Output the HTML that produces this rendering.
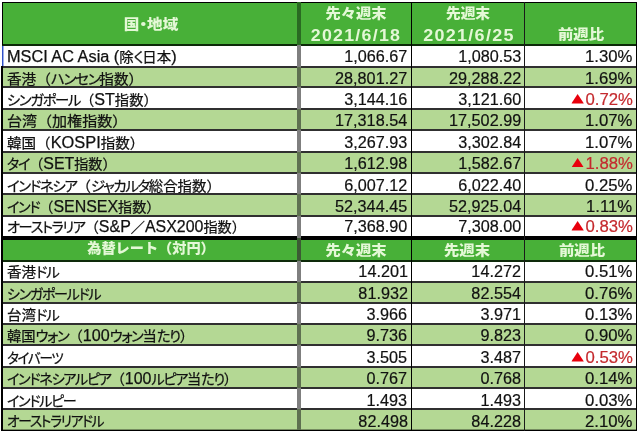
<!DOCTYPE html>
<html><head><meta charset="utf-8"><style>
*{margin:0;padding:0;box-sizing:border-box}
html,body{width:640px;height:434px;overflow:hidden;background:#fff}
body{position:relative;font-family:"Liberation Sans","Noto Sans CJK JP",sans-serif}
.bg,.ln,.t,.h{position:absolute}
#w{position:absolute;left:0;top:0;width:640px;height:434px}
.t{font-size:16px;line-height:20px;color:#111;white-space:nowrap;-webkit-text-stroke:0.25px #111}
.l{transform-origin:0 50%}
.j{font-size:14.2px}
.k{font-feature-settings:"palt" 1;letter-spacing:-1.3px}
.r{text-align:right;transform-origin:100% 50%;transform:scaleX(1.013);-webkit-text-stroke-width:0.2px}
.p{transform:scaleX(1.045)}
.neg{color:#c42a2e;-webkit-text-stroke-color:#c42a2e}
.tri{display:inline-block;vertical-align:1.5px;margin-right:1.5px}
.h{font-weight:900;color:#e4f8d6;font-size:14px;line-height:18px;text-align:center;white-space:nowrap}
.h.n{font-size:17px;letter-spacing:1.2px}
</style></head>
<body><div id="w">
<div class="bg" style="left:2px;top:2px;width:635px;height:43px;background:#48b038"></div>
<div class="bg" style="left:2px;top:45.00px;width:635px;height:21.50px;background:#ffffff"></div>
<div class="bg" style="left:2px;top:66.50px;width:635px;height:20.70px;background:#b4d894"></div>
<div class="bg" style="left:2px;top:87.20px;width:635px;height:21.50px;background:#ffffff"></div>
<div class="bg" style="left:2px;top:108.70px;width:635px;height:21.50px;background:#b4d894"></div>
<div class="bg" style="left:2px;top:130.20px;width:635px;height:21.60px;background:#ffffff"></div>
<div class="bg" style="left:2px;top:151.80px;width:635px;height:21.10px;background:#b4d894"></div>
<div class="bg" style="left:2px;top:172.90px;width:635px;height:21.10px;background:#ffffff"></div>
<div class="bg" style="left:2px;top:194.00px;width:635px;height:21.80px;background:#b4d894"></div>
<div class="bg" style="left:2px;top:215.80px;width:635px;height:21.90px;background:#ffffff"></div>
<div class="bg" style="left:2px;top:237.70px;width:635px;height:22.90px;background:#48b038"></div>
<div class="bg" style="left:2px;top:260.60px;width:635px;height:21.10px;background:#ffffff"></div>
<div class="bg" style="left:2px;top:281.70px;width:635px;height:20.80px;background:#b4d894"></div>
<div class="bg" style="left:2px;top:302.50px;width:635px;height:21.90px;background:#ffffff"></div>
<div class="bg" style="left:2px;top:324.40px;width:635px;height:20.80px;background:#b4d894"></div>
<div class="bg" style="left:2px;top:345.20px;width:635px;height:21.90px;background:#ffffff"></div>
<div class="bg" style="left:2px;top:367.10px;width:635px;height:20.80px;background:#b4d894"></div>
<div class="bg" style="left:2px;top:387.90px;width:635px;height:20.90px;background:#ffffff"></div>
<div class="bg" style="left:2px;top:408.80px;width:635px;height:21.50px;background:#b4d894"></div>
<div class="h" style="left:51.00px;width:200px;top:14.80px;transform:scaleX(1.1150)">国<span class="k" style="letter-spacing:0">・</span>地域</div>
<div class="h" style="left:256.00px;width:200px;top:4.40px;transform:scaleX(1.0900)">先々週末</div>
<div class="h n" style="left:255.80px;width:200px;top:27.00px;transform:scaleX(1.0458)">2021/6/18</div>
<div class="h" style="left:368.10px;width:200px;top:4.40px;transform:scaleX(1.0530)">先週末</div>
<div class="h n" style="left:368.80px;width:200px;top:27.00px;transform:scaleX(1.0565)">2021/6/25</div>
<div class="h" style="left:481.10px;width:200px;top:25.40px;transform:scaleX(1.0996)">前週比</div>
<div class="t l" style="left:7px;top:47.19px;transform:scaleX(1.0183)">MSCI AC Asia (<span class="j">除</span><span class="j k">く</span><span class="j">日本</span>)</div>
<div class="t r" style="right:232.5px;top:47.29px">1,066.67</div>
<div class="t r" style="right:119px;top:47.29px">1,080.53</div>
<div class="t r p" style="right:7.600000000000023px;top:47.29px">1.30%</div>
<div class="t l" style="left:7px;top:68.69px;transform:scaleX(1.0293)"><span class="j">香港（</span><span class="j k">ハンセン</span><span class="j">指数）</span></div>
<div class="t r" style="right:232.5px;top:68.79px">28,801.27</div>
<div class="t r" style="right:119px;top:68.79px">29,288.22</div>
<div class="t r p" style="right:7.600000000000023px;top:68.79px">1.69%</div>
<div class="t l" style="left:7px;top:90.19px;transform:scaleX(1.0074)"><span class="j k">シンガポール</span><span class="j">（</span>ST<span class="j">指数）</span></div>
<div class="t r" style="right:232.5px;top:90.29px">3,144.16</div>
<div class="t r" style="right:119px;top:90.29px">3,121.60</div>
<div class="t r p neg" style="right:7.600000000000023px;top:90.29px"><svg class="tri" width="12" height="9.6" viewBox="0 0 12 9.6"><path d="M6 0L12 9.6H0Z" fill="#e8000c"/></svg>0.72%</div>
<div class="t l" style="left:7px;top:110.99px;transform:scaleX(1.0592)"><span class="j">台湾（加権指数）</span></div>
<div class="t r" style="right:232.5px;top:111.09px">17,318.54</div>
<div class="t r" style="right:119px;top:111.09px">17,502.99</div>
<div class="t r p" style="right:7.600000000000023px;top:111.09px">1.07%</div>
<div class="t l" style="left:7px;top:132.99px;transform:scaleX(1.0248)"><span class="j">韓国（</span>KOSPI<span class="j">指数）</span></div>
<div class="t r" style="right:232.5px;top:133.09px">3,267.93</div>
<div class="t r" style="right:119px;top:133.09px">3,302.84</div>
<div class="t r p" style="right:7.600000000000023px;top:133.09px">1.07%</div>
<div class="t l" style="left:7px;top:153.84px;transform:scaleX(0.9940)"><span class="j k">タイ</span><span class="j">（</span>SET<span class="j">指数）</span></div>
<div class="t r" style="right:232.5px;top:153.94px">1,612.98</div>
<div class="t r" style="right:119px;top:153.94px">1,582.67</div>
<div class="t r p neg" style="right:7.600000000000023px;top:153.94px"><svg class="tri" width="12" height="9.6" viewBox="0 0 12 9.6"><path d="M6 0L12 9.6H0Z" fill="#e8000c"/></svg>1.88%</div>
<div class="t l" style="left:7px;top:175.79px;transform:scaleX(1.0146)"><span class="j k">インドネシア</span><span class="j">（</span><span class="j k">ジャカルタ</span><span class="j">総合指数）</span></div>
<div class="t r" style="right:232.5px;top:175.89px">6,007.12</div>
<div class="t r" style="right:119px;top:175.89px">6,022.40</div>
<div class="t r p" style="right:7.600000000000023px;top:175.89px">0.25%</div>
<div class="t l" style="left:7px;top:196.79px;transform:scaleX(0.9957)"><span class="j k">インド</span><span class="j">（</span>SENSEX<span class="j">指数）</span></div>
<div class="t r" style="right:232.5px;top:196.89px">52,344.45</div>
<div class="t r" style="right:119px;top:196.89px">52,925.04</div>
<div class="t r p" style="right:7.600000000000023px;top:196.89px">1.11%</div>
<div class="t l" style="left:7px;top:217.34px;transform:scaleX(0.9962)"><span class="j k">オーストラリア</span><span class="j">（</span>S&amp;P<span class="j">／</span>ASX200<span class="j">指数）</span></div>
<div class="t r" style="right:232.5px;top:217.44px">7,368.90</div>
<div class="t r" style="right:119px;top:217.44px">7,308.00</div>
<div class="t r p neg" style="right:7.600000000000023px;top:217.44px"><svg class="tri" width="12" height="9.6" viewBox="0 0 12 9.6"><path d="M6 0L12 9.6H0Z" fill="#e8000c"/></svg>0.83%</div>
<div class="h" style="left:50.50px;width:200px;top:239.35px;transform:scaleX(1.0125)">為替レート（対円）</div>
<div class="h" style="left:256.30px;width:200px;top:240.55px;transform:scaleX(1.0924)">先々週末</div>
<div class="h" style="left:367.10px;width:200px;top:240.55px;transform:scaleX(1.0982)">先週末</div>
<div class="h" style="left:481.50px;width:200px;top:240.55px;transform:scaleX(1.0987)">前週比</div>
<div class="t l" style="left:7px;top:262.19px;transform:scaleX(1.0230)"><span class="j">香港</span><span class="j k">ドル</span></div>
<div class="t r" style="right:232.5px;top:262.29px">14.201</div>
<div class="t r" style="right:119px;top:262.29px">14.272</div>
<div class="t r p" style="right:7.600000000000023px;top:262.29px">0.51%</div>
<div class="t l" style="left:7px;top:283.89px;transform:scaleX(0.9881)"><span class="j k">シンガポールドル</span></div>
<div class="t r" style="right:232.5px;top:283.99px">81.932</div>
<div class="t r" style="right:119px;top:283.99px">82.554</div>
<div class="t r p" style="right:7.600000000000023px;top:283.99px">0.76%</div>
<div class="t l" style="left:7px;top:305.19px;transform:scaleX(1.0230)"><span class="j">台湾</span><span class="j k">ドル</span></div>
<div class="t r" style="right:232.5px;top:305.29px">3.966</div>
<div class="t r" style="right:119px;top:305.29px">3.971</div>
<div class="t r p" style="right:7.600000000000023px;top:305.29px">0.13%</div>
<div class="t l" style="left:7px;top:325.99px;transform:scaleX(1.0076)"><span class="j">韓国</span><span class="j k">ウォン</span><span class="j">（</span>100<span class="j k">ウォン</span><span class="j">当</span><span class="j k">たり</span><span class="j">）</span></div>
<div class="t r" style="right:232.5px;top:326.09px">9.736</div>
<div class="t r" style="right:119px;top:326.09px">9.823</div>
<div class="t r p" style="right:7.600000000000023px;top:326.09px">0.90%</div>
<div class="t l" style="left:7px;top:348.04px;transform:scaleX(0.9525)"><span class="j k">タイバーツ</span></div>
<div class="t r" style="right:232.5px;top:348.14px">3.505</div>
<div class="t r" style="right:119px;top:348.14px">3.487</div>
<div class="t r p neg" style="right:7.600000000000023px;top:348.14px"><svg class="tri" width="12" height="9.6" viewBox="0 0 12 9.6"><path d="M6 0L12 9.6H0Z" fill="#e8000c"/></svg>0.53%</div>
<div class="t l" style="left:7px;top:368.99px;transform:scaleX(0.9957)"><span class="j k">インドネシアルピア</span><span class="j">（</span>100<span class="j k">ルピア</span><span class="j">当</span><span class="j k">たり</span><span class="j">）</span></div>
<div class="t r" style="right:232.5px;top:369.09px">0.767</div>
<div class="t r" style="right:119px;top:369.09px">0.768</div>
<div class="t r p" style="right:7.600000000000023px;top:369.09px">0.14%</div>
<div class="t l" style="left:7px;top:390.69px;transform:scaleX(0.9918)"><span class="j k">インドルピー</span></div>
<div class="t r" style="right:232.5px;top:390.79px">1.493</div>
<div class="t r" style="right:119px;top:390.79px">1.493</div>
<div class="t r p" style="right:7.600000000000023px;top:390.79px">0.03%</div>
<div class="t l" style="left:7px;top:411.49px;transform:scaleX(0.9632)"><span class="j k">オーストラリアドル</span></div>
<div class="t r" style="right:232.5px;top:411.59px">82.498</div>
<div class="t r" style="right:119px;top:411.59px">84.228</div>
<div class="t r p" style="right:7.600000000000023px;top:411.59px">2.10%</div>
<div class="ln" style="left:2px;top:66px;width:635px;height:2px;background:#303030"></div>
<div class="ln" style="left:2px;top:86px;width:635px;height:2px;background:#303030"></div>
<div class="ln" style="left:2px;top:108px;width:635px;height:2px;background:#303030"></div>
<div class="ln" style="left:2px;top:129px;width:635px;height:2px;background:#303030"></div>
<div class="ln" style="left:2px;top:151px;width:635px;height:2px;background:#303030"></div>
<div class="ln" style="left:2px;top:172px;width:635px;height:2px;background:#303030"></div>
<div class="ln" style="left:2px;top:193px;width:635px;height:2px;background:#303030"></div>
<div class="ln" style="left:2px;top:215px;width:635px;height:2px;background:#303030"></div>
<div class="ln" style="left:2px;top:236px;width:635px;height:4px;background:#000"></div>
<div class="ln" style="left:2px;top:260px;width:635px;height:2px;background:#0e2a0a"></div>
<div class="ln" style="left:2px;top:281px;width:635px;height:2px;background:#303030"></div>
<div class="ln" style="left:2px;top:302px;width:635px;height:2px;background:#303030"></div>
<div class="ln" style="left:2px;top:323px;width:635px;height:2px;background:#303030"></div>
<div class="ln" style="left:2px;top:344px;width:635px;height:2px;background:#303030"></div>
<div class="ln" style="left:2px;top:366px;width:635px;height:2px;background:#303030"></div>
<div class="ln" style="left:2px;top:387px;width:635px;height:2px;background:#303030"></div>
<div class="ln" style="left:2px;top:408px;width:635px;height:2px;background:#303030"></div>
<div class="ln" style="left:2px;top:44px;width:635px;height:2px;background:#0c2a08"></div>
<div class="ln" style="left:2px;top:2px;width:635px;height:1px;background:#000"></div>
<div class="ln" style="left:1px;top:430px;width:636px;height:1px;background:#000"></div>
<div class="ln" style="left:1px;top:429px;width:636px;height:1px;background:rgba(0,0,0,0.35)"></div>
<div class="ln" style="left:2px;top:2px;width:1px;height:43px;background:#000"></div>
<div class="ln" style="left:1px;top:66px;width:2px;height:365px;background:#000"></div>
<div class="ln" style="left:636px;top:2px;width:1px;height:429px;background:#000"></div>
<div class="ln" style="left:297.3px;top:2px;width:3.3px;height:43px;background:#2a6a22"></div>
<div class="ln" style="left:297.3px;top:45.00px;width:3.3px;height:21.50px;background:#7f7f7f"></div>
<div class="ln" style="left:297.3px;top:66.50px;width:3.3px;height:20.70px;background:#5e7050"></div>
<div class="ln" style="left:297.3px;top:87.20px;width:3.3px;height:21.50px;background:#7f7f7f"></div>
<div class="ln" style="left:297.3px;top:108.70px;width:3.3px;height:21.50px;background:#5e7050"></div>
<div class="ln" style="left:297.3px;top:130.20px;width:3.3px;height:21.60px;background:#7f7f7f"></div>
<div class="ln" style="left:297.3px;top:151.80px;width:3.3px;height:21.10px;background:#5e7050"></div>
<div class="ln" style="left:297.3px;top:172.90px;width:3.3px;height:21.10px;background:#7f7f7f"></div>
<div class="ln" style="left:297.3px;top:194.00px;width:3.3px;height:21.80px;background:#5e7050"></div>
<div class="ln" style="left:297.3px;top:215.80px;width:3.3px;height:21.90px;background:#7f7f7f"></div>
<div class="ln" style="left:297.3px;top:237.70px;width:3.3px;height:22.90px;background:#3c5a34"></div>
<div class="ln" style="left:297.3px;top:260.60px;width:3.3px;height:21.10px;background:#7f7f7f"></div>
<div class="ln" style="left:297.3px;top:281.70px;width:3.3px;height:20.80px;background:#5e7050"></div>
<div class="ln" style="left:297.3px;top:302.50px;width:3.3px;height:21.90px;background:#7f7f7f"></div>
<div class="ln" style="left:297.3px;top:324.40px;width:3.3px;height:20.80px;background:#5e7050"></div>
<div class="ln" style="left:297.3px;top:345.20px;width:3.3px;height:21.90px;background:#7f7f7f"></div>
<div class="ln" style="left:297.3px;top:367.10px;width:3.3px;height:20.80px;background:#5e7050"></div>
<div class="ln" style="left:297.3px;top:387.90px;width:3.3px;height:20.90px;background:#7f7f7f"></div>
<div class="ln" style="left:297.3px;top:408.80px;width:3.3px;height:21.50px;background:#5e7050"></div>
<div class="ln" style="left:411px;top:2px;width:1.2px;height:429.3px;background:#000"></div>
<div class="ln" style="left:523.6px;top:2px;width:1.2px;height:429.3px;background:#1a1a1a"></div>
<div class="ln" style="left:2px;top:46px;width:1px;height:20px;background:#3050c8"></div>
<div class="ln" style="left:3px;top:46px;width:1px;height:20px;background:#a0b0e8"></div>
</div></body></html>
